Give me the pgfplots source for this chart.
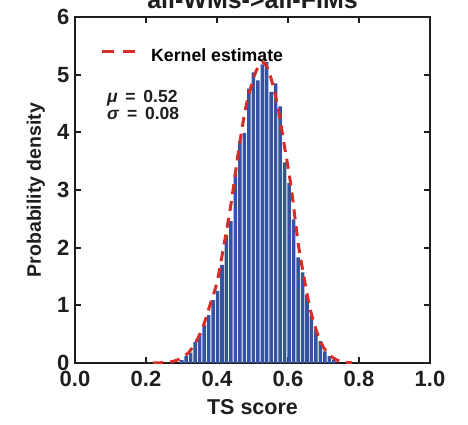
\documentclass[border=0pt]{standalone}
\usepackage{pgfplots}
\pgfplotsset{compat=1.18}
\usepackage{fontspec}
\setmainfont{Liberation Sans}
\definecolor{barblue}{RGB}{52,83,163}
\definecolor{kdered}{RGB}{216,44,40}
\definecolor{axgray}{RGB}{30,30,30}
\begin{document}
\begin{tikzpicture}
\path[use as bounding box] (-75pt,-61pt) rectangle (393pt,363pt);
\begin{axis}[
  at={(0pt,0pt)}, anchor=south west,
  width=355pt, height=346pt, scale only axis,
  xmin=0, xmax=1, ymin=0, ymax=6,
  xtick={0,0.2,0.4,0.6,0.8,1},
  ytick={0,1,2,3,4,5,6},
  tick align=inside,
  major tick length=6pt,
  axis line style={line width=2.6pt, color=axgray},
  every tick/.style={line width=2.2pt, color=axgray},
  tick label style={font=\bfseries\fontsize{22}{26}\selectfont, color=axgray},
  xticklabel style={yshift=-5pt},
  yticklabel style={xshift=-2pt},
  /pgf/number format/assume math mode=true,
  xticklabel={\pgfmathprintnumber[fixed,fixed zerofill,precision=1]{\tick}},
  yticklabel={\pgfmathprintnumber[fixed,precision=0]{\tick}},
  xlabel={TS score}, ylabel={Probability density},
  every axis x label/.style={at={(axis description cs:0.5,-0.127)}, anchor=center, font=\bfseries\fontsize{21.5}{26}\selectfont, color=axgray},
  every axis y label/.style={at={(axis description cs:-0.110,0.5)}, rotate=90, anchor=center, font=\bfseries\fontsize{19.5}{24}\selectfont, color=axgray},
  title={all-WMs->all-FIMs},
  every axis title/.style={at={(axis description cs:0.5,1)}, anchor=base, yshift=9pt, font=\bfseries\fontsize{25}{30}\selectfont, color=axgray},
  legend style={draw=none, fill=none, at={(rel axis cs:0,1)}, anchor=north west, xshift=25pt, yshift=-29pt, inner sep=0pt, font=\bfseries\fontsize{17.7}{21}\selectfont, column sep=13pt},
  legend image code/.code={\draw[#1, dash pattern=on 12pt off 9pt] (0pt,4pt) -- (33pt,4pt);},
]
\addplot[ybar, bar width=0.0099, bar shift=0pt, fill=barblue, draw=none, forget plot] coordinates {
(0.3007,0.05) (0.3133,0.12) (0.3259,0.18) (0.3385,0.36) (0.3511,0.50)
(0.3637,0.66) (0.3763,0.83) (0.3889,1.09) (0.4015,1.25) (0.4141,1.70)
(0.4267,2.22) (0.4393,2.46) (0.4519,3.28) (0.4645,3.85) (0.4771,3.99)
(0.4897,4.76) (0.5023,5.04) (0.5149,4.90) (0.5275,5.18) (0.5401,5.22)
(0.5527,4.70) (0.5653,4.85) (0.5779,4.45) (0.5905,3.48) (0.6031,3.12)
(0.6157,2.49) (0.6283,1.83) (0.6409,1.57) (0.6535,1.18) (0.6661,0.82)
(0.6787,0.58) (0.6913,0.38) (0.7039,0.20) (0.7165,0.12) (0.7291,0.05)
};
\addplot[kdered, line width=3pt, dash pattern=on 10pt off 7pt, smooth] coordinates {
(0.22,0.000) (0.24,0.004) (0.26,0.012) (0.28,0.035) (0.30,0.085)
(0.32,0.18) (0.34,0.36) (0.36,0.62) (0.38,1.00) (0.40,1.40)
(0.42,2.06) (0.44,2.78) (0.46,3.65) (0.48,4.40) (0.50,4.88)
(0.51,5.06) (0.52,5.18) (0.53,5.22) (0.54,5.14) (0.55,4.98)
(0.56,4.76) (0.57,4.48) (0.58,4.14) (0.59,3.76) (0.60,3.40)
(0.61,3.00) (0.62,2.50) (0.63,2.02) (0.64,1.66) (0.65,1.32)
(0.66,1.00) (0.67,0.76) (0.68,0.56) (0.69,0.40) (0.70,0.27)
(0.72,0.12) (0.74,0.045) (0.76,0.015) (0.78,0.004)
};
\addlegendentry{Kernel estimate}
\node[anchor=west, align=left, inner sep=0pt, font=\bfseries\fontsize{17.5}{17}\selectfont, color=axgray] at (rel axis cs:0.09,0.745) {\textit{μ}\, = \,0.52\\\textit{σ}\, = \,0.08};
\end{axis}
\end{tikzpicture}
\end{document}
